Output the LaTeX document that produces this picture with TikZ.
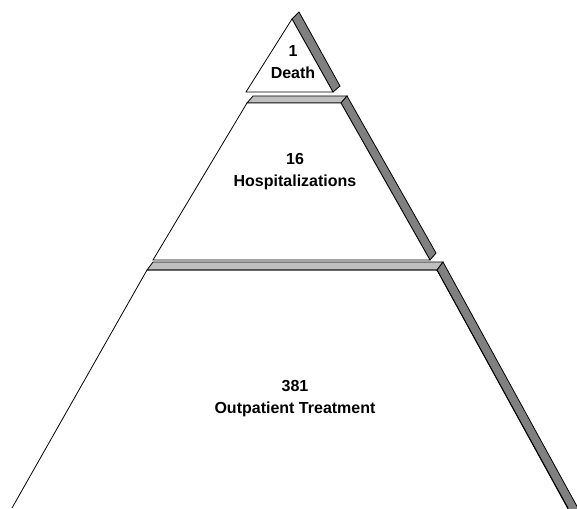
\documentclass[tikz,border=0pt]{standalone}
\usepackage{fontspec}
\setmainfont{Liberation Sans}
\usetikzlibrary{calc}

\begin{document}
\begin{tikzpicture}[x=1pt, y=-1pt, line width=0.8pt, line join=miter,
    face/.style={draw, fill=white},
    slab/.style={draw, fill=black!25},
    side/.style={draw, fill=black!50},
    tiertext/.style={align=center, font=\bfseries\fontsize{16}{22}\selectfont}]
  \useasboundingbox (0,0) rectangle (577,508);
  \clip (0,0) rectangle (577,508);

  % top tier
  \coordinate (t_apex) at (292, 19);
  \coordinate (t_left) at (246, 92);
  \coordinate (t_right) at (333, 92);
  \draw[side] (t_apex) -- ++(7,-7) -- ($(t_right)+(7,-6)$) -- (t_right) -- cycle;
  \draw[face] (t_apex) -- (t_left) -- (t_right) -- cycle;

  % middle tier
  \coordinate (m_tl) at (247, 103);
  \coordinate (m_tr) at (341, 103);
  \coordinate (m_bl) at (153, 260);
  \coordinate (m_br) at (430, 260);
  \draw[slab] (m_tl) -- (m_tr) -- ++(6,-7) -- ($(m_tl)+(6,-7)$) -- cycle;
  \draw[side] (m_tr) -- ++(6,-7) -- ($(m_br)+(6,-7)$) -- (m_br) -- cycle;
  \draw[face] (m_tl) -- (m_tr) -- (m_br) -- (m_bl) -- cycle;

  % bottom tier
  \coordinate (b_tl) at (147, 270);
  \coordinate (b_tr) at (437, 270);
  \coordinate (b_bl) at (12, 508);
  \coordinate (b_br) at (568, 508);
  \draw[slab] (b_tl) -- (b_tr) -- ++(6,-8) -- ($(b_tl)+(6,-8)$) -- cycle;
  \draw[side] (b_tr) -- ++(6,-8) -- ($(b_br)+(6,-8)+(5,10)$) -- ($(b_br)+(5,10)$) -- cycle;
  \draw (b_bl) -- (b_tl) -- (b_tr) -- (b_br);

  \node[tiertext] (deaths) at (293, 62) {1\\Death};
  \node[tiertext] (hosp) at (295, 172) {16\\Hospitalizations};
  \node[tiertext] (outpat) at (295, 399) {381\\Outpatient Treatment};
\end{tikzpicture}
\end{document}
